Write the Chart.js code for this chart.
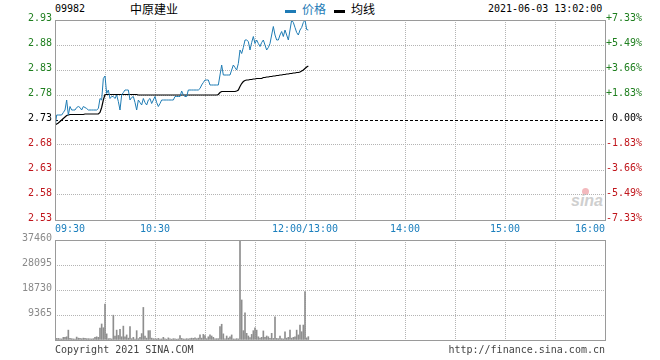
<!DOCTYPE html>
<html>
<head>
<meta charset="utf-8">
<script src="https://cdn.jsdelivr.net/npm/chart.js"></script>
<style>
  body { margin: 0; width: 660px; height: 360px; background: #fff; position: relative; overflow: hidden;
         font-family: "DejaVu Sans Mono", monospace; font-size: 10px; color: #000; }
  canvas { position: absolute; left: 0; }
  .t { position: absolute; white-space: nowrap; line-height: 1; }
  .cjk { font-family: "Noto Sans CJK SC", sans-serif; font-size: 12px; }
  .key { position: absolute; width: 11px; height: 3px; }
</style>
</head>
<body>

<div class="t" style="left:55px; top:4px;">09982</div>
<div class="t cjk" style="left:130px; top:3px;">中原建业</div>
<div class="key" style="left:285px; top:10px; background:#1e7bb6;"></div>
<div class="t cjk" style="left:302px; top:3px; color:#1e7bb6;">价格</div>
<div class="key" style="left:334px; top:10px; background:#000;"></div>
<div class="t cjk" style="left:351px; top:3px;">均线</div>
<div class="t" style="left:488px; top:4px;">2021-06-03 13:02:00</div>

<div class="t" style="left:582px; top:188px; width:7px; height:7px; border-radius:50%; background:#f3b9bd;"></div>
<div class="t" style="left:571px; top:192px; font:italic bold 16px 'Liberation Sans', sans-serif; color:#cfcfcf;">sina</div>

<canvas id="price-chart" width="660" height="240" style="top:0;"></canvas>
<canvas id="vol-chart" width="660" height="120" style="top:230px;"></canvas>

<div class="t" style="left:55px; top:345px; color:#444;">Copyright 2021 SINA.COM</div>
<div class="t" style="right:55px; top:345px; color:#444;">http://finance.sina.com.cn</div>

<script>
// ── 1. DATA ─────────────────────────────────────────────────

// minutes since 09:30 (lunch break squeezed out, 12:00 and 13:00 share one slot)
const gridMinutes = [0, 30, 60, 90, 120, 150, 180, 210, 240, 270, 300, 330];
const timeTicks = [0, 60, 150, 210, 270, 330];
const timeLabels = ['09:30', '10:30', '12:00/13:00', '14:00', '15:00', '16:00'];

const prevClose = 2.73;
const priceTicks = [2.53, 2.58, 2.63, 2.68, 2.73, 2.78, 2.83, 2.88, 2.93];
const pctLabels = ['-7.33%', '-5.49%', '-3.66%', '-1.83%', '0.00%', '+1.83%', '+3.66%', '+5.49%', '+7.33%'];
const volTicks = [0, 9365, 18730, 28095, 37460];

// one value per minute, 09:30 .. 13:02
const price = [
  2.715, 2.74, 2.74, 2.74, 2.74, 2.745, 2.75, 2.77, 2.74, 2.757,
  2.75, 2.75, 2.75, 2.755, 2.757, 2.755, 2.75, 2.757, 2.755, 2.753,
  2.75, 2.75, 2.75, 2.75, 2.75, 2.75, 2.753, 2.773, 2.77, 2.813,
  2.818, 2.783, 2.79, 2.773, 2.777, 2.777, 2.773, 2.78, 2.767, 2.75,
  2.78, 2.785, 2.79, 2.79, 2.79, 2.77, 2.775, 2.777, 2.765, 2.75,
  2.77, 2.765, 2.76, 2.773, 2.765, 2.76, 2.77, 2.773, 2.763, 2.77,
  2.777, 2.765, 2.757, 2.763, 2.77, 2.77, 2.77, 2.77, 2.77, 2.77,
  2.77, 2.77, 2.777, 2.777, 2.777, 2.777, 2.788, 2.78, 2.777, 2.777,
  2.79, 2.79, 2.79, 2.79, 2.79, 2.79, 2.79, 2.793, 2.80, 2.805,
  2.81, 2.81, 2.81, 2.80, 2.80, 2.80, 2.80, 2.80, 2.80, 2.82,
  2.84, 2.82, 2.82, 2.82, 2.82, 2.82, 2.83, 2.84, 2.835, 2.83,
  2.843, 2.87, 2.863, 2.875, 2.89, 2.89, 2.887, 2.87, 2.885, 2.897,
  2.883, 2.89, 2.883, 2.877, 2.885, 2.89, 2.88, 2.87, 2.875, 2.883,
  2.90, 2.917, 2.90, 2.89, 2.89, 2.90, 2.907, 2.897, 2.91, 2.90,
  2.89, 2.91, 2.93, 2.925, 2.915, 2.905, 2.90, 2.91, 2.915, 2.925,
  2.93, 2.911, 2.91
];

const avgPrice = [
  2.72, 2.722, 2.724, 2.727, 2.73, 2.733, 2.736, 2.739, 2.74, 2.741,
  2.741, 2.741, 2.741, 2.741, 2.741, 2.741, 2.741, 2.741, 2.742, 2.742,
  2.742, 2.742, 2.742, 2.742, 2.742, 2.742, 2.742, 2.745, 2.755, 2.77,
  2.781, 2.781, 2.781, 2.781, 2.781, 2.781, 2.781, 2.781, 2.781, 2.781,
  2.781, 2.781, 2.781, 2.781, 2.781, 2.781, 2.781, 2.781, 2.781, 2.781,
  2.78, 2.78, 2.78, 2.78, 2.78, 2.78, 2.78, 2.78, 2.78, 2.78,
  2.78, 2.78, 2.78, 2.78, 2.78, 2.78, 2.78, 2.78, 2.78, 2.78,
  2.78, 2.78, 2.78, 2.78, 2.78, 2.78, 2.78, 2.78, 2.78, 2.78,
  2.78, 2.78, 2.78, 2.78, 2.78, 2.78, 2.78, 2.78, 2.78, 2.78,
  2.78, 2.78, 2.78, 2.78, 2.78, 2.78, 2.78, 2.78, 2.781, 2.785,
  2.787, 2.787, 2.787, 2.787, 2.787, 2.787, 2.787, 2.787, 2.787, 2.788,
  2.79, 2.797, 2.803, 2.807, 2.809, 2.81, 2.81, 2.811, 2.811, 2.812,
  2.812, 2.813, 2.813, 2.813, 2.813, 2.815, 2.815, 2.816, 2.816, 2.817,
  2.817, 2.818, 2.818, 2.819, 2.819, 2.82, 2.82, 2.821, 2.821, 2.822,
  2.822, 2.823, 2.823, 2.824, 2.824, 2.825, 2.825, 2.826, 2.828, 2.83,
  2.833, 2.836, 2.838
];

const volume = [
  900, 600, 600, 400, 400, 1000, 1000, 1200, 3700, 600,
  500, 400, 300, 1100, 700, 600, 500, 700, 600, 500,
  500, 400, 400, 500, 1000, 1200, 1000, 4500, 6000, 4600,
  13500, 2300, 500, 500, 400, 9300, 1500, 3700, 1700, 4000,
  1200, 5200, 1200, 1900, 700, 5000, 500, 1000, 300, 3500,
  500, 1000, 2400, 12200, 1500, 700, 3500, 3500, 700, 500,
  400, 400, 600, 300, 400, 1000, 400, 300, 800, 400,
  300, 500, 400, 300, 400, 1700, 600, 400, 300, 500,
  400, 500, 700, 600, 800, 500, 700, 1900, 700, 2100,
  1700, 500, 1200, 1900, 1500, 1000, 400, 500, 500, 5000,
  5900, 2300, 400, 1500, 700, 1200, 1900, 400, 300, 500,
  400, 37460, 15000, 3500, 10200, 2500, 1500, 900, 2100, 3500,
  4600, 3700, 1200, 700, 1000, 3400, 1000, 1500, 1200, 600,
  2500, 600, 8700, 600, 500, 1500, 500, 400, 3100, 700,
  1000, 3700, 700, 1000, 1200, 3700, 1900, 5600, 3100, 5600,
  18100, 800, 1250
];

// ── 2. SHARED STYLE ─────────────────────────────────────────

const GREEN = '#1f7f1f';
const RED = '#c0161c';
const GRID = '#b4b4b4';
const FRAME = '#9a9a9a';
const MONO = { family: '"DejaVu Sans Mono", monospace', size: 10 };

const xy = arr => arr.map((v, i) => ({ x: i, y: v }));

// solid grey frame around the plot, dashed black line at previous close
const framePlugin = {
  id: 'frame',
  beforeDatasetsDraw(chart, args, opts) {
    if (opts.baseline === undefined) return;
    const { ctx, chartArea: a } = chart;
    const y = Math.round(chart.scales.y.getPixelForValue(opts.baseline)) + 0.5;
    ctx.save();
    ctx.strokeStyle = '#000';
    ctx.lineWidth = 1;
    ctx.setLineDash([3, 2]);
    ctx.beginPath();
    ctx.moveTo(a.left, y);
    ctx.lineTo(a.right, y);
    ctx.stroke();
    ctx.restore();
  },
  afterDraw(chart) {
    const { ctx, chartArea: a } = chart;
    ctx.save();
    ctx.strokeStyle = FRAME;
    ctx.lineWidth = 1;
    ctx.strokeRect(Math.round(a.left) + 0.5, Math.round(a.top) + 0.5,
                   Math.round(a.right - a.left), Math.round(a.bottom - a.top));
    ctx.restore();
  }
};

const timeAxis = (showLabels) => ({
  type: 'linear',
  min: 0,
  max: 330,
  offset: false,
  afterBuildTicks: s => { s.ticks = gridMinutes.map(v => ({ value: v })); },
  afterFit: s => { s.height = showLabels ? 20 : 0; },
  grid: { color: GRID, drawTicks: false, offset: false },
  border: { display: false, dash: [1, 1] },
  ticks: {
    display: showLabels,
    autoSkip: false,
    maxRotation: 0,
    align: 'inner',
    padding: 3,
    color: '#1b7fbd',
    font: MONO,
    callback: v => {
      const k = timeTicks.indexOf(v);
      return k >= 0 ? timeLabels[k] : '';
    }
  }
});

// ── 3. PRICE CHART ──────────────────────────────────────────

const pctColor = ctx => {
  const v = ctx.tick.value;
  if (v > prevClose + 1e-6) return GREEN;
  if (v < prevClose - 1e-6) return RED;
  return '#000';
};

new Chart(document.getElementById('price-chart'), {
  type: 'line',
  data: {
    datasets: [
      { data: xy(price), borderColor: '#1f7cb4', borderWidth: 1, pointRadius: 0, tension: 0 },
      { data: xy(avgPrice), borderColor: '#000', borderWidth: 1.2, pointRadius: 0, tension: 0 }
    ]
  },
  options: {
    responsive: false,
    animation: false,
    devicePixelRatio: 1,
    layout: { padding: { top: 20, right: 18, left: 0, bottom: 0 } },
    plugins: { legend: { display: false }, tooltip: { enabled: false }, frame: { baseline: prevClose } },
    scales: {
      x: timeAxis(true),
      y: {
        min: 2.53,
        max: 2.93,
        afterBuildTicks: s => { s.ticks = priceTicks.map(v => ({ value: v })); },
        afterFit: s => { s.width = 55; },
        grid: {
          color: c => Math.abs(c.tick.value - prevClose) < 1e-6 ? 'rgba(0,0,0,0)' : GRID,
          drawTicks: false
        },
        border: { display: false, dash: [1, 1] },
        ticks: { padding: 3, labelOffset: -2, color: pctColor, font: MONO, callback: v => v.toFixed(2) }
      },
      yR: {
        position: 'right',
        min: 2.53,
        max: 2.93,
        afterBuildTicks: s => { s.ticks = priceTicks.map(v => ({ value: v })); },
        afterFit: s => { s.width = 37; },
        grid: { drawOnChartArea: false, drawTicks: false },
        border: { display: false },
        ticks: { crossAlign: 'far', padding: 0, labelOffset: -2, color: pctColor, font: MONO,
                 callback: (v, i) => pctLabels[i] }
      }
    }
  },
  plugins: [framePlugin]
});

// ── 4. VOLUME CHART ─────────────────────────────────────────

new Chart(document.getElementById('vol-chart'), {
  type: 'bar',
  data: {
    datasets: [
      { data: xy(volume), backgroundColor: '#8e8e8e', barThickness: 1, borderWidth: 0 }
    ]
  },
  options: {
    responsive: false,
    animation: false,
    devicePixelRatio: 1,
    layout: { padding: { top: 10, right: 55, left: 0, bottom: 10 } },
    plugins: { legend: { display: false }, tooltip: { enabled: false } },
    scales: {
      x: timeAxis(false),
      y: {
        min: 0,
        max: 37460,
        afterBuildTicks: s => { s.ticks = volTicks.map(v => ({ value: v })); },
        afterFit: s => { s.width = 55; },
        grid: { color: GRID, drawTicks: false },
        border: { display: false, dash: [1, 1] },
        ticks: { padding: 3, labelOffset: -2, color: '#8a8a8a', font: MONO,
                 callback: v => v === 0 ? '' : String(v) }
      }
    }
  },
  plugins: [framePlugin]
});
</script>
</body>
</html>
